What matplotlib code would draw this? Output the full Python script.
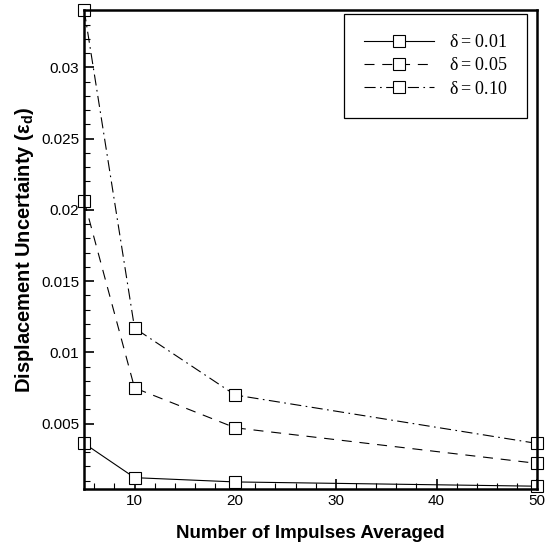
import numpy as np
import matplotlib.pyplot as plt
from matplotlib.ticker import MultipleLocator, FuncFormatter

# impulses averaged and displacement uncertainty for each delta
n_impulses = [5, 10, 20, 50]
eps_d01 = [0.0036, 0.0012, 0.0009, 0.0006]
eps_d05 = [0.0206, 0.0075, 0.0047, 0.0022]
eps_d10 = [0.0340, 0.0117, 0.0070, 0.0036]
labels = [r'$\mathregular{\delta = 0.01}$', r'$\mathregular{\delta = 0.05}$', r'$\mathregular{\delta = 0.10}$']

plt.rcParams['font.family'] = 'Liberation Sans'

fig = plt.figure(figsize=(5.47, 5.44), dpi=100)
ax = fig.add_axes([0.154, 0.101, 0.828, 0.88])

styles = ['-', (0, (9, 7)), (0, (10, 4, 1.5, 4))]
for y, ls, lab in zip([eps_d01, eps_d05, eps_d10], styles, labels):
    ax.plot(n_impulses, y, color='black', lw=0.8, ls=ls, marker='s', ms=9,
            mfc='white', mec='black', mew=0.8, clip_on=False, label=lab)

ax.set_xlim(5, 50)
ax.set_ylim(0.0004, 0.034)
ax.xaxis.set_major_locator(MultipleLocator(10))
ax.xaxis.set_minor_locator(MultipleLocator(2))
ax.yaxis.set_major_locator(MultipleLocator(0.005))
ax.yaxis.set_minor_locator(MultipleLocator(0.001))
ax.yaxis.set_major_formatter(FuncFormatter(lambda v, p: ('%g' % v) if v > 1e-9 else ''))
ax.xaxis.set_major_formatter(FuncFormatter(lambda v, p: ('%d' % v) if v >= 10 else ''))
ax.tick_params(which='both', direction='in', top=False, right=False, labelsize=11)
ax.tick_params(which='major', length=7, width=1.2)
ax.tick_params(which='minor', length=4, width=0.8)
for s in ax.spines.values():
    s.set_linewidth(1.8)

ax.set_xlabel('Number of Impulses Averaged', fontsize=13.5, fontweight='bold', labelpad=12)
ax.set_ylabel(r'Displacement Uncertainty ($\mathregular{\varepsilon_d}$)', fontsize=14.5,
              fontweight='bold', labelpad=4)

leg = ax.legend(loc='upper right', bbox_to_anchor=(0.978, 0.992), borderaxespad=0,
                handlelength=3.9, handletextpad=0.8, fancybox=False, framealpha=1,
                edgecolor='black', borderpad=1.1, labelspacing=0.35,
                prop={'family': 'Liberation Serif', 'size': 13})
leg.get_frame().set_linewidth(0.9)

fig.savefig('out.png', dpi=100)
